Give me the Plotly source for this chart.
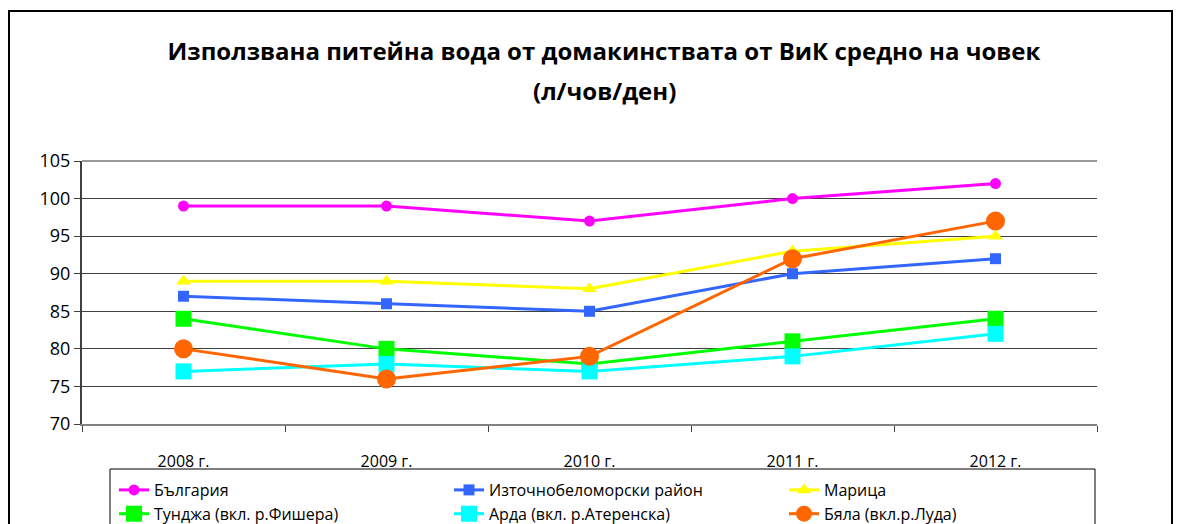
import plotly.graph_objects as go

years = ["2008 г.", "2009 г.", "2010 г.", "2011 г.", "2012 г."]
bulgaria = [99, 99, 97, 100, 102]
iztochno = [87, 86, 85, 90, 92]
maritsa = [89, 89, 88, 93, 95]
tundzha = [84, 80, 78, 81, 84]
arda = [77, 78, 77, 79, 82]
byala = [80, 76, 79, 92, 97]

names = ["България", "Източнобеломорски район", "Марица",
         "Тунджа (вкл. р.Фишера)", "Арда (вкл. р.Атеренска)", "Бяла (вкл.р.Луда)"]
series = [bulgaria, iztochno, maritsa, tundzha, arda, byala]
colors = ["#FF00FF", "#3366FF", "#FFFF00", "#00FF00", "#00FFFF", "#FF6600"]
symbols = ["circle", "square", "triangle-up", "square", "square", "circle"]
sizes = [11, 11, 13, 16, 16, 19]

FONT = "Open Sans"
OFF = 8  # page body margin
W, H = 1184 - OFF, 524 - OFF
L, R, T, B = 82 - OFF, 1097 - OFF, 161 - OFF, 424 - OFF
PW, PH = R - L, B - T


def px(x):
    return (x - OFF - L) / PW


def py(y):
    return (B - (y - OFF)) / PH


fig = go.Figure()
for n, s, c, sym, sz in zip(names, series, colors, symbols, sizes):
    fig.add_trace(go.Scatter(x=years, y=s, name=n, mode="lines+markers",
                             line=dict(color=c, width=3),
                             marker=dict(symbol=sym, size=sz, color=c)))

fig.update_layout(
    width=W, height=H,
    margin=dict(l=L, r=W - R, t=T, b=H - B, autoexpand=False),
    paper_bgcolor="white", plot_bgcolor="white",
    font=dict(family=FONT, color="black"),
    showlegend=True,
    legend=dict(orientation="h", x=px(114), y=py(473), xanchor="left", yanchor="top",
                entrywidth=290, entrywidthmode="pixels",
                borderwidth=0, bgcolor="rgba(0,0,0,0)",
                font=dict(size=16, family=FONT), tracegroupgap=0,
                traceorder="normal"),
    title=dict(text="<b>Използвана питейна вода от домакинствата от ВиК средно на човек</b>",
               x=px(604), xref="paper", xanchor="center", y=1 - (52 - OFF) / H, yanchor="middle",
               font=dict(size=24, family=FONT)),
    annotations=[dict(text="<b>(л/чов/ден)</b>", xref="paper", yref="paper",
                      x=px(604), y=py(90), xanchor="center", yanchor="middle",
                      showarrow=False, font=dict(size=24, family=FONT))],
    shapes=[
        dict(type="rect", xref="paper", yref="paper",
             x0=px(9), x1=px(1172), y0=py(560), y1=py(11),
             line=dict(color="black", width=2), layer="below"),
        dict(type="rect", xref="paper", yref="paper",
             x0=px(110), x1=px(1095), y0=py(560), y1=py(469),
             line=dict(color="black", width=1), layer="below"),
        dict(type="line", xref="paper", yref="paper", x0=0, x1=1, y0=1, y1=1,
             line=dict(color="#999999", width=2)),
    ],
)

fig.update_xaxes(showgrid=False, showline=True, linecolor="#808080", linewidth=2,
                 ticks="outside", tickson="boundaries", ticklen=6, tickcolor="#404040",
                 tickfont=dict(size=16), ticklabelstandoff=22, range=[-0.5, 4.5])
fig.update_yaxes(range=[70, 105], dtick=5, showgrid=True, gridcolor="#404040", gridwidth=1.2,
                 showline=True, linecolor="#404040", linewidth=2,
                 ticks="outside", ticklen=6, tickcolor="#404040",
                 tickfont=dict(size=18), zeroline=False)

fig.write_html("out.html")
